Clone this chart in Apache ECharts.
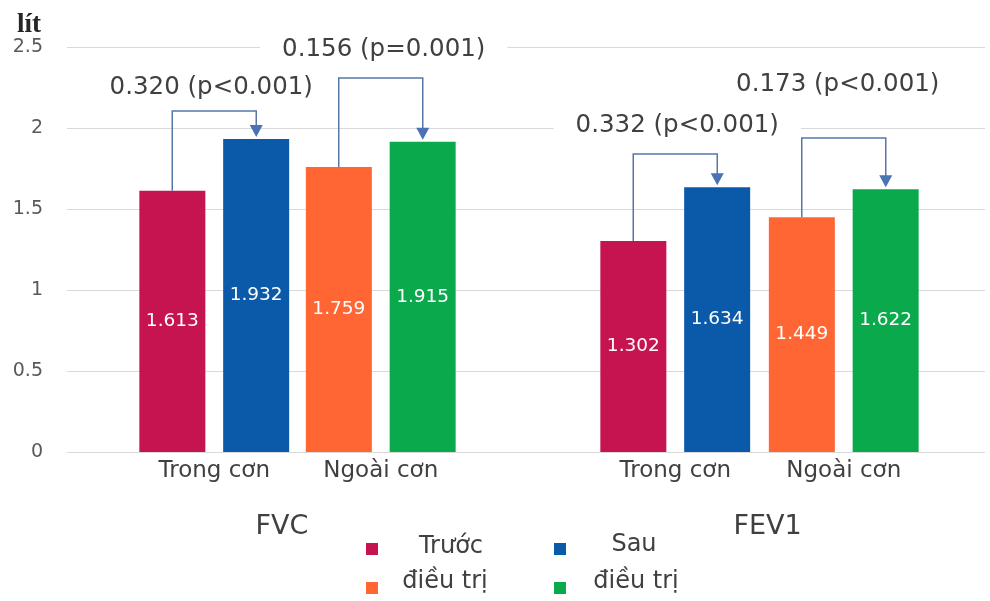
<!DOCTYPE html>
<html>
<head>
<meta charset="utf-8">
<script src="https://cdn.jsdelivr.net/npm/echarts@6/dist/echarts.min.js"></script>
<style>html,body{margin:0;padding:0;background:#fff;}#c{width:990px;height:601px;}</style>
</head>
<body>
<div id="c"></div>
<script>
// ---- data ----
const categories = ['Trong cơn', 'Ngoài cơn'];
const groups = ['FVC', 'FEV1'];
const beforeFVC = [1.613, 1.759];
const afterFVC = [1.932, 1.915];
const beforeFEV1 = [1.302, 1.449];
const afterFEV1 = [1.634, 1.622];
const diffLabels = ['0.320 (p<0.001)', '0.156 (p=0.001)', '0.332 (p<0.001)', '0.173 (p<0.001)'];
const yTicks = [0, 0.5, 1, 1.5, 2, 2.5];
const legendNames = ['Trước', 'Sau', 'điều trị', 'điều trị'];

// ---- styling / layout ----
const FONT = 'DejaVu Sans';
const colBefore = ['#C61450', '#FF6633'];
const colAfter = ['#0B5AAA', '#0AAA4C'];
const bracketLevel = [2.105, 2.309, 1.84, 1.938];
const textLevel = [2.247, 2.481, 2.012, 2.265];
const textDx = [-3, 3, 2, -6];
const TOP = 47, BOTTOM = 149;

function barSeries(vals, colors, xi, name) {
  return {
    type: 'bar', name: name, xAxisIndex: xi, yAxisIndex: xi,
    barWidth: 66, barGap: '27%',
    data: vals.map((v, i) => ({ value: v, itemStyle: { color: colors[i] } })),
    label: { show: true, position: 'inside', color: '#fff', fontFamily: FONT, fontSize: 18.5,
      formatter: p => p.value.toFixed(3) },
    z: 2
  };
}

function bracketSeries(xi, before, after, offset) {
  return {
    type: 'custom', xAxisIndex: xi, yAxisIndex: xi, z: 5, silent: true,
    data: before.map((b, i) => [i, b, after[i], bracketLevel[offset + i], textLevel[offset + i], offset + i]),
    renderItem: function (params, api) {
      const cat = api.value(0);
      const idx = api.value(5);
      const pB = api.coord([cat, api.value(1)]);
      const pA = api.coord([cat, api.value(2)]);
      const pL = api.coord([cat, api.value(3)]);
      const pT = api.coord([cat, api.value(4)]);
      const half = 42;
      const xb = pB[0] - half, xa = pB[0] + half;
      const tip = pA[1] - 2;
      return {
        type: 'group',
        children: [
          { type: 'polyline', shape: { points: [[xb, pB[1]], [xb, pL[1]], [xa, pL[1]], [xa, tip - 11]] },
            style: { stroke: '#5577AA', lineWidth: 1.5, fill: null } },
          { type: 'polygon', shape: { points: [[xa - 6.5, tip - 12], [xa + 6.5, tip - 12], [xa, tip]] },
            style: { fill: '#4A72B5' } },
          { type: 'text', x: pB[0] + textDx[idx], y: pT[1], z2: 10,
            style: { text: diffLabels[idx], fontFamily: FONT, fontSize: 24.5, fill: '#404040',
              align: 'center', verticalAlign: 'middle', backgroundColor: '#fff', padding: [3, 22] } }
        ]
      };
    }
  };
}

const chart = echarts.init(document.getElementById('c'), null, { renderer: 'canvas' });
const gridAxisY = (idx, show) => ({
  gridIndex: idx, type: 'value', min: yTicks[0], max: yTicks[yTicks.length - 1], interval: 0.5,
  show: show,
  axisLine: { show: false }, axisTick: { show: false },
  axisLabel: { show: show, color: '#595959', fontFamily: FONT, fontSize: 19, margin: 24,
    formatter: v => String(v) },
  splitLine: { show: show, lineStyle: { color: '#D9D9D9', width: 1 } }
});
const catAxis = (idx, name, namePad) => ({
  gridIndex: idx, type: 'category', data: categories,
  axisLine: { show: false }, axisTick: { show: false },
  axisLabel: { color: '#404040', fontFamily: FONT, fontSize: 23, margin: 8 },
  splitLine: { show: false },
  name: name, nameLocation: 'middle', nameGap: 61,
  nameTextStyle: { color: '#404040', fontFamily: FONT, fontSize: 27, padding: namePad }
});

chart.setOption({
  animation: false,
  backgroundColor: '#fff',
  grid: [
    { left: 67, right: 5, top: TOP, bottom: BOTTOM },
    { left: 131, width: 333, top: TOP, bottom: BOTTOM },
    { left: 591, width: 337, top: TOP, bottom: BOTTOM }
  ],
  xAxis: [
    { gridIndex: 0, type: 'value', min: 0, max: 1, show: false },
    catAxis(1, groups[0], [0, 31, 0, 0]),
    catAxis(2, groups[1], [0, 0, 0, 16])
  ],
  yAxis: [gridAxisY(0, true), gridAxisY(1, false), gridAxisY(2, false)],
  series: [
    barSeries(beforeFVC, colBefore, 1, 'Trước điều trị'),
    barSeries(afterFVC, colAfter, 1, 'Sau điều trị'),
    barSeries(beforeFEV1, colBefore, 2, 'Trước điều trị'),
    barSeries(afterFEV1, colAfter, 2, 'Sau điều trị'),
    bracketSeries(1, beforeFVC, afterFVC, 0),
    bracketSeries(2, beforeFEV1, afterFEV1, 2)
  ],
  graphic: [
    { type: 'text', left: 17, top: 12, style: { text: 'lít', fontFamily: 'Liberation Serif', fontWeight: 'bold',
      fontSize: 27, fill: '#262626' } },
    { type: 'rect', x: 366, y: 543, shape: { width: 12, height: 12 }, style: { fill: colBefore[0] } },
    { type: 'rect', x: 366, y: 582, shape: { width: 12, height: 12 }, style: { fill: colBefore[1] } },
    { type: 'rect', x: 554, y: 543, shape: { width: 12, height: 12 }, style: { fill: colAfter[0] } },
    { type: 'rect', x: 554, y: 582, shape: { width: 12, height: 12 }, style: { fill: colAfter[1] } },
    { type: 'text', x: 451, y: 547, style: { text: legendNames[0], fontFamily: FONT, fontSize: 24, fill: '#404040', align: 'center', verticalAlign: 'middle' } },
    { type: 'text', x: 634, y: 545, style: { text: legendNames[1], fontFamily: FONT, fontSize: 24, fill: '#404040', align: 'center', verticalAlign: 'middle' } },
    { type: 'text', x: 445, y: 582, style: { text: legendNames[2], fontFamily: FONT, fontSize: 24, fill: '#404040', align: 'center', verticalAlign: 'middle' } },
    { type: 'text', x: 636, y: 582, style: { text: legendNames[3], fontFamily: FONT, fontSize: 24, fill: '#404040', align: 'center', verticalAlign: 'middle' } }
  ]
});
</script>
</body>
</html>
